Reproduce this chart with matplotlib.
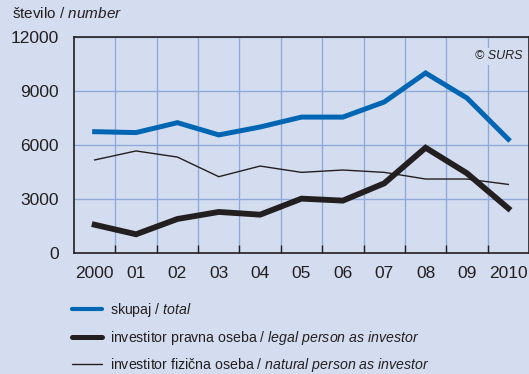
import numpy as np
import matplotlib
matplotlib.use("Agg")
import matplotlib.pyplot as plt
from matplotlib.ticker import FixedLocator

# ==========================================
# DATA
# ==========================================
years = ["2000", "01", "02", "03", "04", "05", "06", "07", "08", "09", "2010"]

total = [6740, 6690, 7240, 6560, 7000, 7550, 7550, 8390, 10000, 8610, 6320]
legal = [1570, 1040, 1890, 2280, 2130, 3020, 2910, 3870, 5850, 4430, 2480]
natural = [5170, 5670, 5330, 4240, 4830, 4480, 4610, 4480, 4110, 4110, 3810]

yticks = [0, 3000, 6000, 9000, 12000]

# ==========================================
# STYLE
# ==========================================
BG = "#d4ddef"
GRID = "#8eaadb"
BLUE = "#0066b3"
BLACK = "#231f20"

plt.rcParams["font.family"] = ["Liberation Sans", "DejaVu Sans"]
plt.rcParams["mathtext.fontset"] = "custom"
plt.rcParams["mathtext.rm"] = "Liberation Sans"
plt.rcParams["mathtext.it"] = "Liberation Sans:italic"

fig = plt.figure(figsize=(5.29, 3.74), dpi=100, facecolor=BG)
ax = fig.add_axes([74 / 529, 1 - 253 / 374, 455 / 529, 216 / 374])
ax.set_facecolor(BG)

x = np.arange(len(years))

# ==========================================
# LINES
# ==========================================
ax.plot(x, natural, color=BLACK, lw=1.0, solid_joinstyle="miter", zorder=3,
        label=r"investitor fizična oseba / $\mathit{natural\ person\ as\ investor}$")
ax.plot(x, legal, color=BLACK, lw=4.2, solid_joinstyle="miter", zorder=4,
        label=r"investitor pravna oseba / $\mathit{legal\ person\ as\ investor}$")
ax.plot(x, total, color=BLUE, lw=3.6, solid_joinstyle="miter", zorder=5,
        label=r"skupaj / $\mathit{total}$")

# ==========================================
# AXES
# ==========================================
ax.set_xlim(-0.5, len(years) - 0.5)
ax.set_ylim(0, 12000)
ax.set_xticks(x)
ax.set_xticklabels(years)
ax.set_yticks(yticks)
ax.set_yticklabels([str(v) for v in yticks])
ax.xaxis.set_minor_locator(FixedLocator(x[:-1] + 0.5))

ax.tick_params(axis="x", which="major", length=0, pad=9, labelsize=12.5,
               colors=BLACK)
ax.tick_params(axis="x", which="minor", length=6, width=1, direction="in",
               color=BLACK)
ax.tick_params(axis="y", length=0, pad=11, labelsize=12.5, colors=BLACK)

ax.grid(True, which="minor", axis="x", color=GRID, lw=1)
ax.grid(True, which="major", axis="y", color=GRID, lw=1)
ax.set_axisbelow(True)

for side in ["left", "bottom", "top", "right"]:
    ax.spines[side].set_color(BLACK)
    ax.spines[side].set_linewidth(1.2)

ax.text(0.985, 0.91, "© SURS", transform=ax.transAxes, ha="right", va="center",
        fontsize=9, style="italic", color=BLACK, zorder=6,
        bbox=dict(facecolor=BG, edgecolor="none", pad=1.5))

fig.text(12 / 529, 1 - 14 / 374, r"število / $\mathit{number}$", ha="left",
         va="center", fontsize=11, color=BLACK)

# ==========================================
# LEGEND
# ==========================================
handles, labels = ax.get_legend_handles_labels()
order = [2, 1, 0]
leg = fig.legend([handles[i] for i in order], [labels[i] for i in order],
                 loc="upper left", bbox_to_anchor=(72 / 529, 1 - 301 / 374),
                 frameon=False, fontsize=10.2, handlelength=2.15,
                 handletextpad=0.55, labelspacing=0.68, borderpad=0,
                 borderaxespad=0)
for h, w in zip(leg.get_lines(), [3.0, 3.6, 1.0]):
    h.set_linewidth(w)
    h.set_solid_capstyle("round")
for t in leg.get_texts():
    t.set_color(BLACK)

fig.savefig("out.png", dpi=100, facecolor=BG)
